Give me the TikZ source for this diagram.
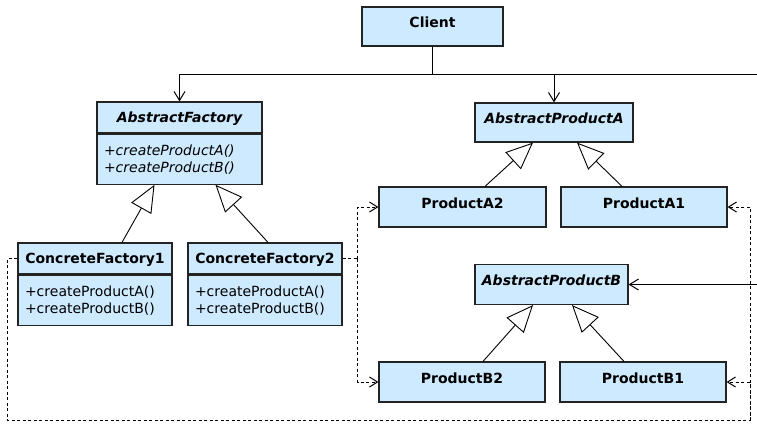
\documentclass[tikz,border=0pt]{standalone}
\usepackage{fontspec}
\setmainfont{DejaVu Sans}
\usetikzlibrary{arrows.meta}
\definecolor{boxfill}{RGB}{206,234,254}
\definecolor{boxline}{RGB}{35,35,35}
\tikzset{
  cls/.style={draw=boxline, fill=boxfill, line width=1.2pt, inner sep=0pt,
    font=\fontsize{14}{17}\selectfont\bfseries,
    text height=10pt, text depth=8pt, minimum height=40pt},
  abstractcls/.style={cls, font=\fontsize{14}{17}\selectfont\bfseries\itshape},
  namepart/.style={draw=boxline, fill=boxfill, line width=1.2pt, inner sep=0pt,
    font=\fontsize{14}{17}\selectfont\bfseries,
    text height=10pt, text depth=1pt, minimum height=31pt},
  opspart/.style={draw=boxline, fill=boxfill, line width=1.2pt, inner xsep=7pt,
    inner ysep=0pt, font=\fontsize{14}{17}\selectfont, align=left,
    minimum height=50pt, anchor=north},
  assoc/.style={draw=black, line width=1pt, -{Straight Barb[length=9pt,width=11pt,line width=1pt]}},
  gen/.style={draw=black, line width=0.9pt, -{Triangle[open, length=27pt, width=23pt, fill=white]}},
  dep/.style={draw=black, line width=1pt, dash pattern=on 3pt off 2.5pt,
    -{Straight Barb[length=8pt,width=10pt,line width=1pt]}},
  depline/.style={draw=black, line width=1pt, dash pattern=on 3pt off 2.5pt},
}
\begin{document}
\begin{tikzpicture}[x=1pt, y=-1pt]
\useasboundingbox (0,0) rectangle (757,424);
\clip (0,0) rectangle (757,424);
\fill[white] (0,0) rectangle (757,424);

% client
\node[cls, minimum width=141pt, minimum height=39pt] (client) at (432.5,26.5) {Client};

% abstract factory with its operations
\node[namepart, minimum width=165pt, font=\fontsize{14}{17}\selectfont\bfseries\itshape] (afn) at (179.5,117.5) {AbstractFactory};
\node[opspart, text width=151pt, font=\fontsize{14}{17}\selectfont\itshape] (afb) at (afn.south) {+createProductA()\\+createProductB()};

% concrete factories
\node[namepart, minimum width=154pt] (cf1n) at (95,258.5) {ConcreteFactory1};
\node[opspart, text width=140pt] (cf1b) at (cf1n.south) {+createProductA()\\+createProductB()};
\node[namepart, minimum width=154pt] (cf2n) at (265,258.5) {ConcreteFactory2};
\node[opspart, text width=140pt] (cf2b) at (cf2n.south) {+createProductA()\\+createProductB()};

% product hierarchy A
\node[abstractcls, minimum width=158pt, minimum height=39pt] (apa) at (554,122.5) {AbstractProductA};
\node[cls, minimum width=167pt] (pa2) at (462.5,207) {ProductA2};
\node[cls, minimum width=166pt] (pa1) at (644,207) {ProductA1};

% product hierarchy B
\node[abstractcls, minimum width=153pt] (apb) at (551.5,284.5) {AbstractProductB};
\node[cls, minimum width=166pt] (pb2) at (462,382) {ProductB2};
\node[cls, minimum width=166pt] (pb1) at (643,382) {ProductB1};

% client associations
\coordinate (bus) at (432.5,74);
\coordinate (rt) at (761,74);
\draw[line width=1pt] (client.south) -- (bus);
\draw[assoc] (bus) -| (afn.north);
\draw[assoc] (bus) -| (apa.north);
\draw[assoc] (bus) -- (rt) |- (apb.east);

% generalizations
\draw[gen] ([xshift=27pt]cf1n.north) -- ([xshift=-25pt]afb.south);
\draw[gen] ([xshift=3pt]cf2n.north) -- ([xshift=36pt]afb.south);
\draw[gen] ([xshift=22.5pt]pa2.north) -- ([xshift=-21pt]apa.south);
\draw[gen] ([xshift=-22pt]pa1.north) -- ([xshift=23pt]apa.south);
\draw[gen] ([xshift=21pt]pb2.north) -- ([xshift=-18.5pt]apb.south);
\draw[gen] ([xshift=-19pt]pb1.north) -- ([xshift=20.5pt]apb.south);

% dependencies of ConcreteFactory2
\coordinate (d2) at ([xshift=15pt]cf2n.east);
\draw[depline] (cf2n.east) -- (d2);
\draw[dep] (d2) |- (pa2.west);
\draw[dep] (d2) |- (pb2.west);

% dependencies of ConcreteFactory1
\coordinate (d1) at ([xshift=-10pt]cf1n.west);
\coordinate (dr) at (750,420);
\draw[dep] (cf1n.west) -- (d1) |- (dr) |- (pa1.east);
\draw[dep] (dr) |- (pb1.east);
\end{tikzpicture}
\end{document}
